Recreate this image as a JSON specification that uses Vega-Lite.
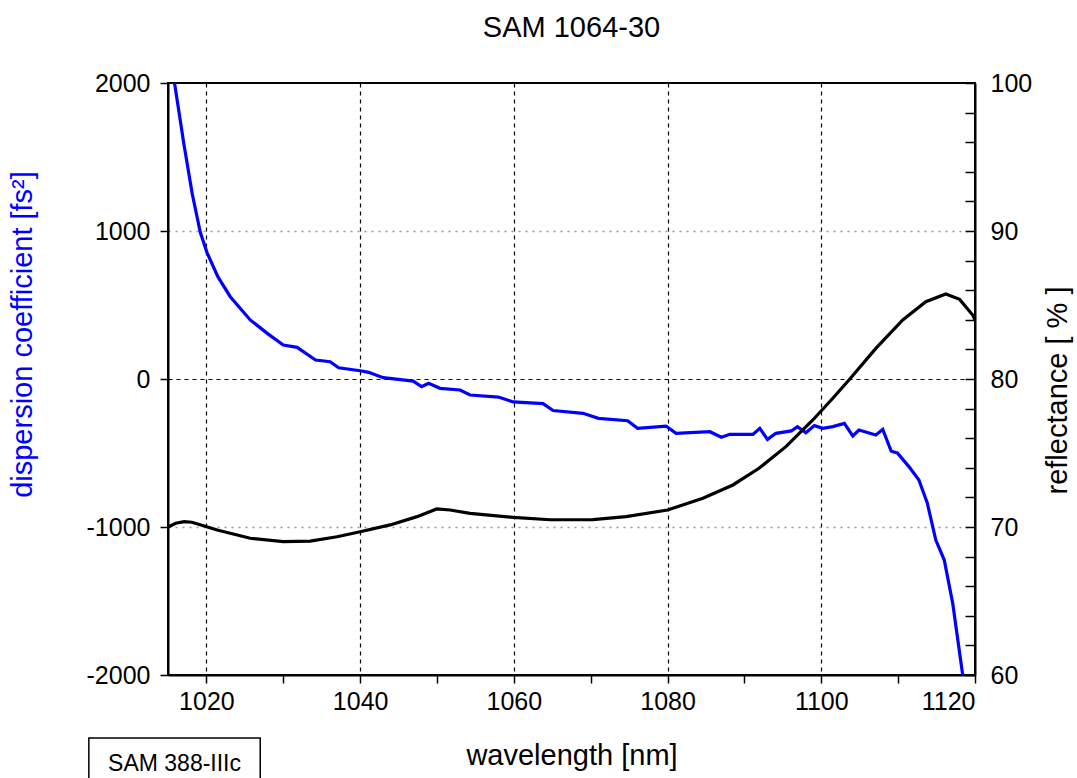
{
  "$schema": "https://vega.github.io/schema/vega-lite/v6.json",
  "width": 807,
  "height": 592,
  "autosize": {"type": "none"},
  "padding": {"left": 168, "top": 83, "right": 102, "bottom": 103},
  "background": "white",
  "title": {"text": "SAM 1064-30", "fontSize": 29, "fontWeight": "normal", "font": "Liberation Sans", "color": "black", "frame": "group", "anchor": "middle", "baseline": "alphabetic", "offset": 5},
  "config": {
    "view": {"stroke": "black", "strokeWidth": 2},
    "font": "Liberation Sans",
    "axis": {"labelFont": "Liberation Sans", "titleFont": "Liberation Sans", "labelColor": "black", "titleColor": "black", "titleFontWeight": "normal", "domainColor": "black", "domainWidth": 2, "tickColor": "black", "tickWidth": 1.5}
  },
  "datasets": {
    "disp": [
      {"wl": 1015.85, "d": 2000}, {"wl": 1017.05, "d": 1593}, {"wl": 1018.14, "d": 1255}, {"wl": 1019.2, "d": 991},
      {"wl": 1020.1, "d": 851}, {"wl": 1021.5, "d": 690}, {"wl": 1023.1, "d": 556}, {"wl": 1025.7, "d": 399},
      {"wl": 1028.0, "d": 305}, {"wl": 1030.0, "d": 230}, {"wl": 1031.8, "d": 214}, {"wl": 1034.2, "d": 128},
      {"wl": 1036.1, "d": 117}, {"wl": 1037.2, "d": 76}, {"wl": 1040.0, "d": 56}, {"wl": 1041.1, "d": 45},
      {"wl": 1043.0, "d": 9}, {"wl": 1046.9, "d": -14}, {"wl": 1048.0, "d": -52}, {"wl": 1048.9, "d": -29},
      {"wl": 1050.4, "d": -63}, {"wl": 1053.0, "d": -74}, {"wl": 1054.3, "d": -108}, {"wl": 1058.0, "d": -122},
      {"wl": 1059.9, "d": -155}, {"wl": 1063.8, "d": -166}, {"wl": 1065.1, "d": -213}, {"wl": 1069.0, "d": -232},
      {"wl": 1071.0, "d": -266}, {"wl": 1074.8, "d": -282}, {"wl": 1076.1, "d": -333}, {"wl": 1079.8, "d": -318},
      {"wl": 1081.1, "d": -367}, {"wl": 1085.5, "d": -356}, {"wl": 1087.0, "d": -394}, {"wl": 1088.1, "d": -374},
      {"wl": 1091.1, "d": -374}, {"wl": 1092.0, "d": -333}, {"wl": 1093.0, "d": -408}, {"wl": 1094.1, "d": -367},
      {"wl": 1096.1, "d": -351}, {"wl": 1096.9, "d": -322}, {"wl": 1098.0, "d": -363}, {"wl": 1099.1, "d": -315},
      {"wl": 1100.2, "d": -333}, {"wl": 1101.5, "d": -322}, {"wl": 1103.0, "d": -300}, {"wl": 1104.1, "d": -385},
      {"wl": 1104.9, "d": -345}, {"wl": 1107.1, "d": -378}, {"wl": 1108.0, "d": -340}, {"wl": 1109.1, "d": -488},
      {"wl": 1109.9, "d": -500}, {"wl": 1111.4, "d": -592}, {"wl": 1112.7, "d": -682}, {"wl": 1113.8, "d": -840},
      {"wl": 1114.9, "d": -1088}, {"wl": 1116.0, "d": -1223}, {"wl": 1117.1, "d": -1516}, {"wl": 1118.4, "d": -2000}
    ],
    "refl": [
      {"wl": 1015.1, "r": 70.02}, {"wl": 1016.0, "r": 70.25}, {"wl": 1017.1, "r": 70.36}, {"wl": 1018.1, "r": 70.32},
      {"wl": 1019.5, "r": 70.1}, {"wl": 1021.4, "r": 69.8}, {"wl": 1025.7, "r": 69.24}, {"wl": 1030.0, "r": 69.01},
      {"wl": 1033.5, "r": 69.05}, {"wl": 1037.0, "r": 69.34}, {"wl": 1040.0, "r": 69.68}, {"wl": 1043.9, "r": 70.14},
      {"wl": 1047.4, "r": 70.7}, {"wl": 1049.96, "r": 71.22}, {"wl": 1051.7, "r": 71.15}, {"wl": 1054.3, "r": 70.92},
      {"wl": 1059.9, "r": 70.65}, {"wl": 1064.7, "r": 70.49}, {"wl": 1070.3, "r": 70.5}, {"wl": 1074.6, "r": 70.7},
      {"wl": 1080.0, "r": 71.15}, {"wl": 1084.6, "r": 71.94}, {"wl": 1088.5, "r": 72.84}, {"wl": 1091.9, "r": 73.97},
      {"wl": 1095.4, "r": 75.43}, {"wl": 1098.9, "r": 77.23}, {"wl": 1101.5, "r": 78.7}, {"wl": 1103.6, "r": 79.93},
      {"wl": 1107.1, "r": 82.07}, {"wl": 1110.6, "r": 83.99}, {"wl": 1113.6, "r": 85.22}, {"wl": 1116.2, "r": 85.74},
      {"wl": 1118.0, "r": 85.38}, {"wl": 1119.7, "r": 84.32}, {"wl": 1120.0, "r": 84.0}
    ],
    "note": [
      {"wl0": 1004.7, "wl1": 1027.0, "d0": -2426, "d1": -2800, "wlc": 1015.85, "dc": -2600, "label": "SAM 388-IIIc"}
    ]
  },
  "layer": [
    {
      "layer": [
        {
          "data": {"name": "disp"},
          "mark": {"type": "line", "color": "#0000ff", "strokeWidth": 3.2},
          "encoding": {
            "x": {"field": "wl", "type": "quantitative", "scale": {"domain": [1015, 1120], "nice": false, "zero": false},
              "axis": {"values": [1020, 1030, 1040, 1050, 1060, 1070, 1080, 1090, 1100, 1110, 1120],
                "labelExpr": "datum.value % 20 === 0 ? '' + datum.value : ''", "labelFontSize": 25, "labelPadding": 6, "tickSize": 8,
                "grid": true, "gridColor": "black", "gridDash": [4, 4], "gridWidth": 1.2,
                "gridOpacity": {"condition": {"test": "datum.value % 20 === 0 && datum.value < 1120", "value": 1}, "value": 0},
                "title": "wavelength [nm]", "titleFontSize": 29, "titlePadding": 27}},
            "y": {"field": "d", "type": "quantitative", "scale": {"domain": [-2000, 2000], "nice": false},
              "axis": {"values": [-2000, -1000, 0, 1000, 2000], "labelExpr": "'' + datum.value", "labelFontSize": 25, "labelPadding": 10, "tickSize": 8,
                "grid": true,
                "gridColor": {"condition": {"test": "datum.value === 0", "value": "black"}, "value": "#999999"},
                "gridDash": {"condition": {"test": "datum.value === 0", "value": [4, 4]}, "value": [2, 5]},
                "gridWidth": {"condition": {"test": "datum.value === 0", "value": 1.2}, "value": 1.5},
                "gridOpacity": {"condition": {"test": "abs(datum.value) === 2000", "value": 0}, "value": 1},
                "title": "dispersion coefficient [fs²]", "titleColor": "#0000ff", "titleFontSize": 29, "titlePadding": 49, "titleY": 251}}
          }
        },
        {
          "data": {"name": "note"},
          "mark": {"type": "rect", "fill": "white", "stroke": "black", "strokeWidth": 1.5},
          "encoding": {
            "x": {"field": "wl0", "type": "quantitative"},
            "x2": {"field": "wl1"},
            "y": {"field": "d0", "type": "quantitative"},
            "y2": {"field": "d1"}
          }
        },
        {
          "data": {"name": "note"},
          "mark": {"type": "text", "fontSize": 23, "font": "Liberation Sans", "color": "black", "align": "center", "baseline": "middle"},
          "encoding": {
            "x": {"field": "wlc", "type": "quantitative"},
            "y": {"field": "dc", "type": "quantitative"},
            "text": {"field": "label"}
          }
        }
      ]
    },
    {
      "data": {"name": "refl"},
      "mark": {"type": "line", "color": "black", "strokeWidth": 3.2},
      "encoding": {
        "x": {"field": "wl", "type": "quantitative"},
        "y": {"field": "r", "type": "quantitative", "scale": {"domain": [60, 100], "nice": false, "zero": false},
          "axis": {"orient": "right", "values": [60, 62, 64, 66, 68, 70, 72, 74, 76, 78, 80, 82, 84, 86, 88, 90, 92, 94, 96, 98, 100],
            "labelExpr": "datum.value % 10 === 0 ? datum.label : ''", "labelFontSize": 25, "tickSize": -10, "labelPadding": 25,
            "grid": false, "title": "reflectance [ % ]", "titleFontSize": 29, "titleAngle": 270, "titleBaseline": "top", "titlePadding": 12, "titleY": 307}}
      }
    }
  ],
  "resolve": {"scale": {"y": "independent"}}
}
